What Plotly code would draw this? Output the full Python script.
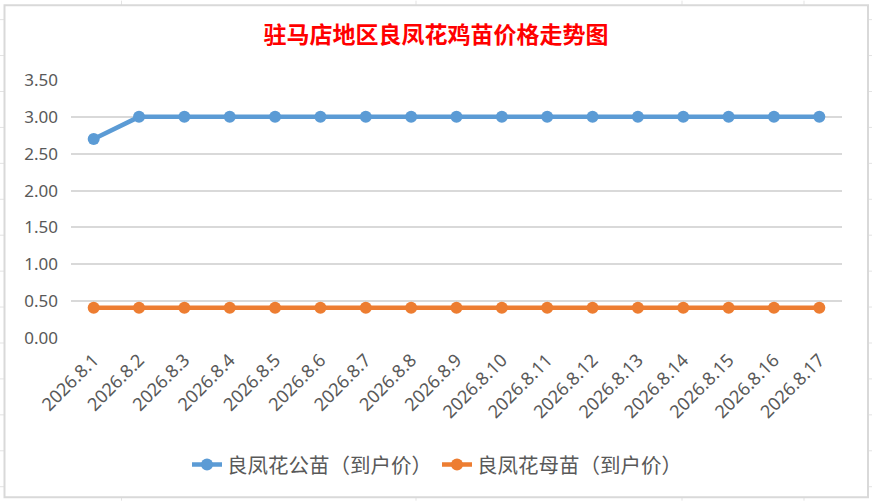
import plotly.graph_objects as go

categories = ["2026.8.1", "2026.8.2", "2026.8.3", "2026.8.4", "2026.8.5", "2026.8.6",
              "2026.8.7", "2026.8.8", "2026.8.9", "2026.8.10", "2026.8.11", "2026.8.12",
              "2026.8.13", "2026.8.14", "2026.8.15", "2026.8.16", "2026.8.17"]
male_price = [2.70, 3.00, 3.00, 3.00, 3.00, 3.00, 3.00, 3.00, 3.00,
              3.00, 3.00, 3.00, 3.00, 3.00, 3.00, 3.00, 3.00]
female_price = [0.41, 0.41, 0.41, 0.41, 0.41, 0.41, 0.41, 0.41, 0.41,
                0.41, 0.41, 0.41, 0.41, 0.41, 0.41, 0.41, 0.41]
y_ticks = [0.0, 0.5, 1.0, 1.5, 2.0, 2.5, 3.0, 3.5]
title_text = "驻马店地区良凤花鸡苗价格走势图"
name_male = "良凤花公苗（到户价）"
name_female = "良凤花母苗（到户价）"

W, H = 872, 501
ML, MR, MT, MB = 71, 30, 79.5, 163
PW = W - ML - MR
PH = H - MT - MB


def px2x(px):
    return (px - ML) / PW


def py2y(py):
    return (H - MB - py) / PH


fig = go.Figure()
fig.add_trace(go.Scatter(
    x=categories, y=male_price, name=name_male, mode="lines+markers",
    line=dict(color="#5b9bd5", width=4.5),
    marker=dict(color="#5b9bd5", size=12),
))
fig.add_trace(go.Scatter(
    x=categories, y=female_price, name=name_female, mode="lines+markers",
    line=dict(color="#ed7d31", width=4.5),
    marker=dict(color="#ed7d31", size=12),
))

shapes = []
cell_col = "#e3e3e3"
for vx in [121.5, 416, 682, 804]:
    shapes.append(dict(type="line", xref="paper", yref="paper", layer="below",
                       x0=px2x(vx), x1=px2x(vx), y0=py2y(0), y1=py2y(H),
                       line=dict(color=cell_col, width=1)))
for k in range(14):
    hy = 19 + 36 * k
    shapes.append(dict(type="line", xref="paper", yref="paper", layer="below",
                       x0=px2x(0), x1=px2x(W), y0=py2y(hy), y1=py2y(hy),
                       line=dict(color=cell_col, width=1)))
shapes.append(dict(type="rect", xref="paper", yref="paper", layer="below",
                   x0=px2x(4.5), x1=px2x(868), y0=py2y(4.5), y1=py2y(497.5),
                   fillcolor="white", line=dict(color="#d9d9d9", width=2)))

fig.update_layout(
    width=W, height=H,
    margin=dict(l=ML, r=MR, t=MT, b=MB, autoexpand=False),
    paper_bgcolor="white",
    plot_bgcolor="rgba(0,0,0,0)",
    shapes=shapes,
    title=dict(text=title_text, x=436 / W, xref="container", xanchor="center",
               y=1 - 35 / H, yref="container", yanchor="middle",
               font=dict(family="Noto Sans CJK SC", size=23, color="#ff0000", weight="bold")),
    showlegend=True,
    legend=dict(orientation="h", x=px2x(437), xanchor="center", y=py2y(465), yanchor="middle",
                font=dict(family="Noto Sans CJK SC", size=20.5, color="#595959"),
                bgcolor="rgba(0,0,0,0)"),
    xaxis=dict(type="category", range=[-0.5, len(categories) - 0.5],
               showgrid=False, showline=False, zeroline=False, ticks="",
               tickangle=-45, ticklabelstandoff=7,
               tickfont=dict(family="Noto Sans", size=18, color="#595959")),
    yaxis=dict(range=[0, 3.5], tickvals=y_ticks, ticktext=[f"{v:.2f}" for v in y_ticks],
               showgrid=True, gridcolor="#d9d9d9", gridwidth=1.5,
               zeroline=False, showline=False, ticks="", ticklabelstandoff=12,
               tickfont=dict(family="Noto Sans", size=17, color="#595959")),
)

fig.write_html("out.html", config={"displayModeBar": False},
               post_script="document.body.style.margin='0';document.body.style.overflow='hidden';")
